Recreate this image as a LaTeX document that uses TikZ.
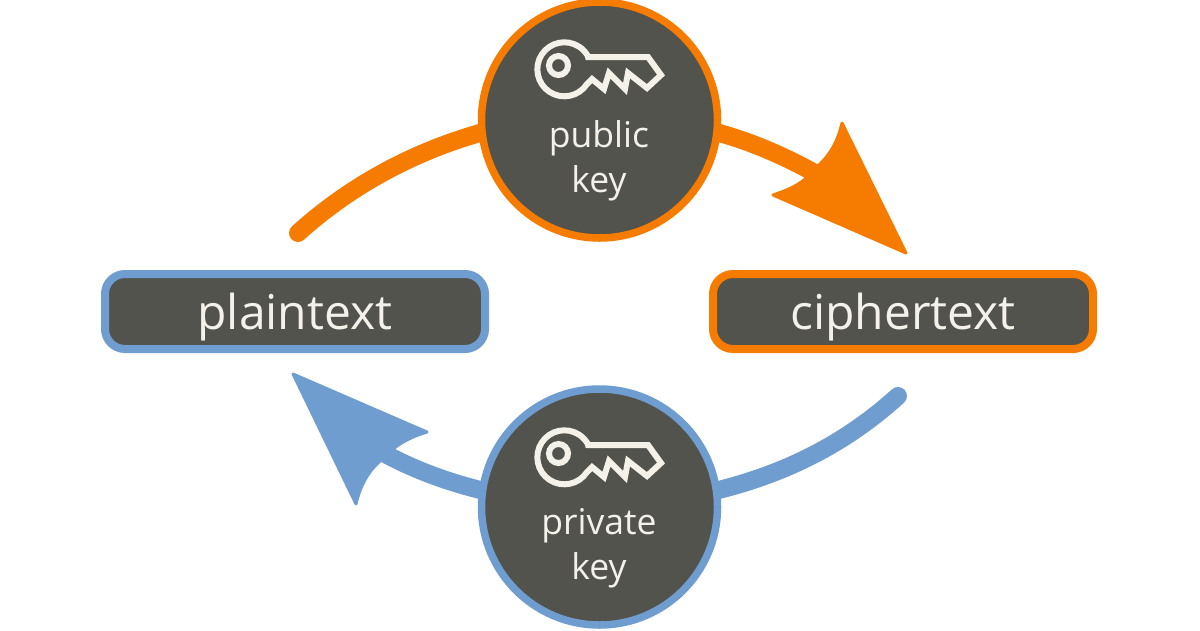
\documentclass[tikz,border=0pt]{standalone}
\usepackage{fontspec}
\usetikzlibrary{backgrounds}
\setmainfont{Open Sans}
\definecolor{orangeC}{HTML}{F57C00}
\definecolor{blueC}{HTML}{6F9DD0}
\definecolor{slateC}{HTML}{53534E}
\definecolor{paperC}{HTML}{F3F1E8}
\tikzset{
  keycircle/.style={circle,draw=#1,fill=slateC,line width=7.5pt,minimum size=236pt,inner sep=0pt,outer sep=0pt},
  textbox/.style={rectangle,rounded corners=20pt,draw=#1,fill=slateC,line width=8pt,minimum width=380pt,minimum height=75pt,inner sep=0pt,outer sep=0pt,text=paperC,text height=35pt,text depth=0pt,font=\fontsize{48}{50}\selectfont},
  arcline/.style={draw=#1,line width=18pt},
  lbl/.style={text=paperC,font=\fontsize{35.5}{40}\selectfont,inner sep=0pt,anchor=base},
  keyline/.style={draw=paperC,line width=6pt,line join=miter,line cap=butt},
  keyicon/.pic={
    \draw[keyline] (588,57) -- (648,57) -- (661,75) -- (647,88) -- (628,73) -- (625,89) -- (609,73) -- (604,89) -- (592,79) -- (587,84)
      arc[start angle=-33,end angle=-329,x radius=27pt,y radius=27pt] -- cycle;
    \draw[keyline] (558.5,65.5) circle[x radius=9.5pt,y radius=9.5pt];
  }
}
\begin{document}
\begin{tikzpicture}[x=1pt,y=-1pt]
\useasboundingbox (0,0) rectangle (1200,630);
\coordinate (orangeStart) at (298,233);
\coordinate (orangeNotch) at (822,177);
\coordinate (orangeTip) at (906,253);
\coordinate (blueStart) at (898,396);
\coordinate (blueNotch) at (378,450);
\coordinate (blueTip) at (293,374);
\node[keycircle=orangeC] (public) at (599.5,120) {};
\node[keycircle=blueC] (private) at (599.5,507) {};
\node[textbox=blueC] (plain) at (295,311.5) {plaintext};
\node[textbox=orangeC] (cipher) at (903,311.5) {ciphertext};
\begin{scope}[on background layer]
\draw[arcline=orangeC,line cap=round] (orangeStart) .. controls (350,186) and (412.5,152) .. (public.186);
\draw[arcline=orangeC] (public.354) .. controls (755.4,142.8) and (790,158.9) .. (orangeNotch);
\fill[orangeC,draw=orangeC,line width=3pt,line join=round] (orangeTip) -- (842,123) .. controls (838,140) and (832,152) .. (820,164) -- (804,180) .. controls (795,187) and (785,191) .. (773,195) -- cycle;
\draw[arcline=blueC,line cap=round] (blueStart) .. controls (846,443) and (787.5,473) .. (private.8);
\draw[arcline=blueC] (private.172) .. controls (444.6,481.2) and (409.9,468.1) .. (blueNotch);
\fill[blueC,draw=blueC,line width=3pt,line join=round] (blueTip) -- (356,504) .. controls (360,487) and (367,473) .. (379,462) -- (393,449) .. controls (403,441) and (414,436) .. (427,432) -- cycle;
\end{scope}
\pic at (0,0) {keyicon};
\pic at (0,388) {keyicon};
\node[lbl] (publicT) at (599,147) {public};
\node[lbl] (publicK) at (599,192) {key};
\node[lbl] (privateT) at (599,534) {private};
\node[lbl] (privateK) at (599,579) {key};
\end{tikzpicture}
\end{document}
